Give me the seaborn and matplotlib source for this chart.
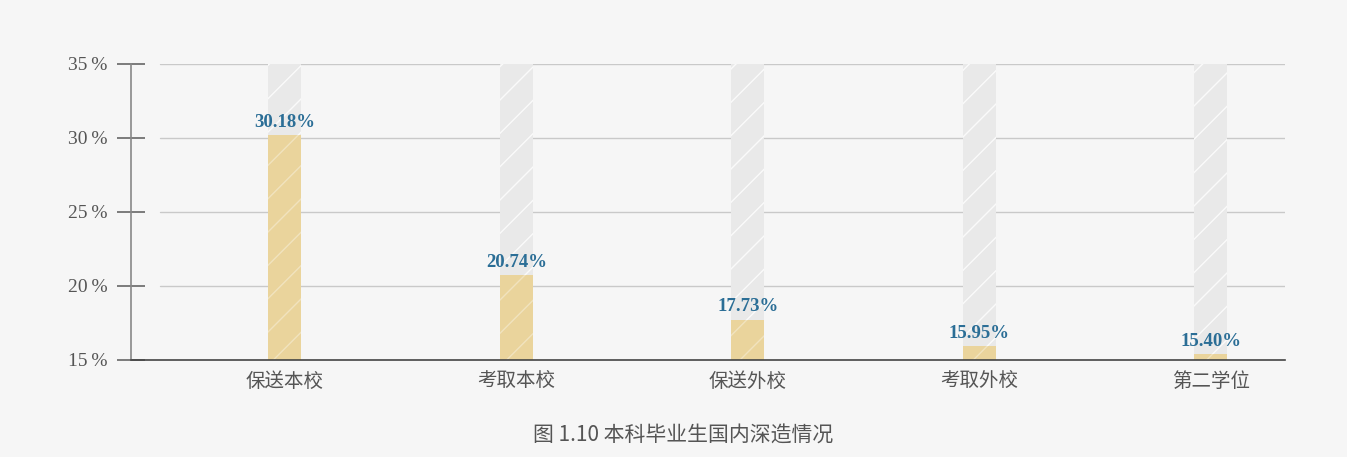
import pandas as pd
import seaborn as sns
import matplotlib.pyplot as plt

sns.set_theme(style="white")
plt.rcParams["font.family"] = ["Noto Sans CJK SC", "DejaVu Sans"]
plt.rcParams["hatch.linewidth"] = 1.0

# data
categories = ["保送本校", "考取本校", "保送外校", "考取外校", "第二学位"]
values = [30.18, 20.74, 17.73, 15.95, 15.40]
labels = ["30.18%", "20.74%", "17.73%", "15.95%", "15.40%"]
y_ticks = [15, 20, 25, 30, 35]
y_tick_labels = ["15\u2009%", "20\u2009%", "25\u2009%", "30\u2009%", "35\u2009%"]
y_max = 35
y_min = 15

df = pd.DataFrame({"cat": categories, "val": values, "bg": [y_max] * len(categories)})

bg_color = "#f6f6f6"
fig = plt.figure(figsize=(13.47, 4.57), dpi=100, facecolor=bg_color)
ax = fig.add_axes([131 / 1347, 1 - 360 / 457, (1285 - 131) / 1347, (360 - 64) / 457])
ax.set_facecolor(bg_color)

# grey background bars up to the max
sns.barplot(data=df, x="cat", y="bg", order=categories, color="#e9e9e9",
            width=0.143, edgecolor=(1, 1, 1, 0.8), linewidth=0, hatch="/", ax=ax,
            saturation=1)
# data bars
sns.barplot(data=df, x="cat", y="val", order=categories, color="#ead49c",
            width=0.143, edgecolor=(1, 1, 1, 0.35), linewidth=0, hatch="/", ax=ax,
            saturation=1)

ax.set_ylim(y_min, y_max)
ax.set_xlim(-0.665, 4.32)

# grid lines (not touching the axis)
for t in y_ticks[1:]:
    ax.axhline(t, xmin=0.025, xmax=1, color="#c9c9c9", linewidth=1, zorder=0)

for i, (v, lab) in enumerate(zip(values, labels)):
    ax.text(i, v + 0.3, lab, ha="center", va="bottom", color="#2b6e96",
            fontsize=13.5, fontweight="bold", family=["Liberation Serif"])

ax.set_yticks(y_ticks)
ax.set_yticklabels(y_tick_labels, family=["Liberation Serif", "DejaVu Serif"],
                   fontsize=14, color="#555555")
ax.tick_params(axis="y", direction="inout", length=20, width=1.2,
               color="#666666", pad=7, left=True)
ax.tick_params(axis="x", length=0, pad=8, labelsize=14, labelcolor="#555555")

for s in ["top", "right"]:
    ax.spines[s].set_visible(False)
ax.spines["left"].set_color("#888888")
ax.spines["left"].set_linewidth(1.2)
ax.spines["bottom"].set_color("#444444")
ax.spines["bottom"].set_linewidth(1.2)

ax.set_xlabel("")
ax.set_ylabel("")

fig.text(683 / 1347, 1 - 436 / 457, "图 1.10 本科毕业生国内深造情况", ha="center",
         va="center", fontsize=15, color="#555555")

fig.savefig("out.png", dpi=100, facecolor=bg_color)
